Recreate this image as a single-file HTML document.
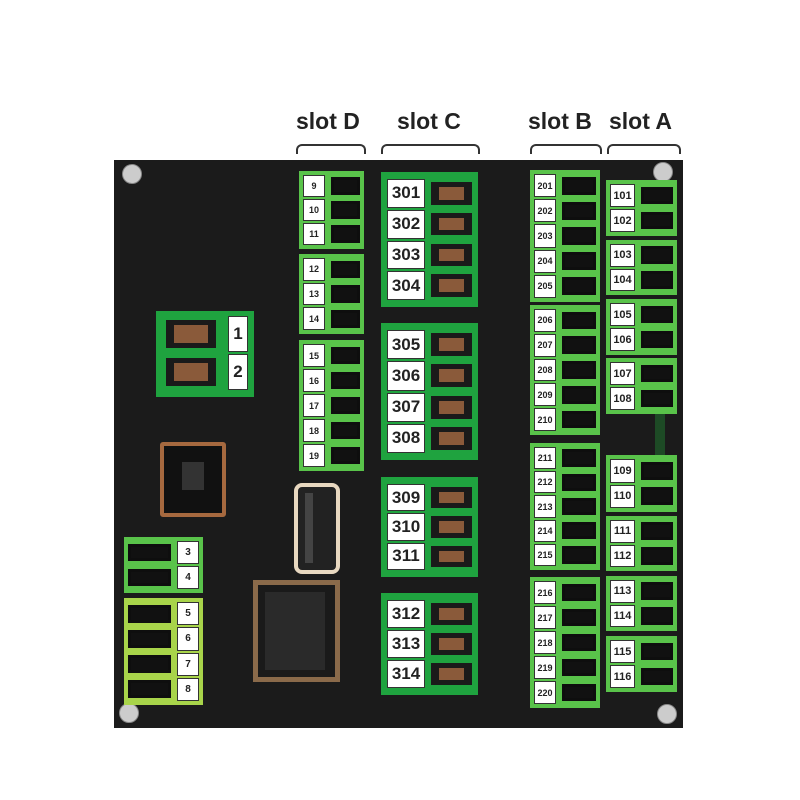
<!DOCTYPE html><html><head><style>
body{margin:0;width:800px;height:800px;background:#fff;position:relative;overflow:hidden;font-family:"Liberation Sans",sans-serif}
.a{position:absolute}
.board{left:114px;top:160px;width:569px;height:568px;background:#1b1b1b}
.blk{position:absolute;display:flex;flex-direction:column;box-sizing:border-box;padding:3px 4px}
.blk .r{flex:1;display:flex;align-items:center;gap:6px;margin:1px 0}
.lb{background:#fff;border:1px solid #333;font-weight:bold;color:#222;text-align:center;box-sizing:border-box;height:100%;display:flex;align-items:center;justify-content:center}
.sk{flex:1;height:78%;background:#111;border:3px solid rgba(0,0,0,0.15);box-sizing:border-box;position:relative}
.sk.c{background:#8a5a3a;border:5px solid #1a1a1a;border-left-width:8px;border-right-width:8px}
.g1{background:#59c34a}
.g2{background:#1fa33f}
.g3{background:#a8d44a}
.hd{font-size:23px;font-weight:bold;color:#222;top:108px}
.br{top:144px;height:8px;border:2px solid #333;border-bottom:none;border-radius:6px 6px 0 0}
.sc{width:18px;height:18px;border-radius:50%;background:#ccc;border:1px solid #888}
</style></head><body>
<div class="a hd" style="left:296px">slot D</div>
<div class="a hd" style="left:397px">slot C</div>
<div class="a hd" style="left:528px">slot B</div>
<div class="a hd" style="left:609px">slot A</div>
<div class="a br" style="left:296px;width:66px"></div>
<div class="a br" style="left:381px;width:95px"></div>
<div class="a br" style="left:530px;width:68px"></div>
<div class="a br" style="left:607px;width:70px"></div>
<div class="a board"></div>
<div class="a sc" style="left:122px;top:164px"></div>
<div class="a sc" style="left:653px;top:162px"></div>
<div class="a sc" style="left:119px;top:703px"></div>
<div class="a sc" style="left:657px;top:704px"></div>

<!-- slot D -->
<div class="blk g1" style="left:299px;top:171px;width:65px;height:78px"><div class="r"><span class="lb" style="width:22px;font-size:9px">9</span><span class="sk"></span></div><div class="r"><span class="lb" style="width:22px;font-size:9px">10</span><span class="sk"></span></div><div class="r"><span class="lb" style="width:22px;font-size:9px">11</span><span class="sk"></span></div></div>
<div class="blk g1" style="left:299px;top:254px;width:65px;height:80px"><div class="r"><span class="lb" style="width:22px;font-size:9px">12</span><span class="sk"></span></div><div class="r"><span class="lb" style="width:22px;font-size:9px">13</span><span class="sk"></span></div><div class="r"><span class="lb" style="width:22px;font-size:9px">14</span><span class="sk"></span></div></div>
<div class="blk g1" style="left:299px;top:340px;width:65px;height:131px"><div class="r"><span class="lb" style="width:22px;font-size:9px">15</span><span class="sk"></span></div><div class="r"><span class="lb" style="width:22px;font-size:9px">16</span><span class="sk"></span></div><div class="r"><span class="lb" style="width:22px;font-size:9px">17</span><span class="sk"></span></div><div class="r"><span class="lb" style="width:22px;font-size:9px">18</span><span class="sk"></span></div><div class="r"><span class="lb" style="width:22px;font-size:9px">19</span><span class="sk"></span></div></div>

<!-- slot C -->
<div class="blk g2" style="left:381px;top:172px;width:97px;height:135px;padding:6px 6px"><div class="r"><span class="lb" style="width:38px;font-size:17px">301</span><span class="sk c"></span></div><div class="r"><span class="lb" style="width:38px;font-size:17px">302</span><span class="sk c"></span></div><div class="r"><span class="lb" style="width:38px;font-size:17px">303</span><span class="sk c"></span></div><div class="r"><span class="lb" style="width:38px;font-size:17px">304</span><span class="sk c"></span></div></div>
<div class="blk g2" style="left:381px;top:323px;width:97px;height:137px;padding:6px 6px"><div class="r"><span class="lb" style="width:38px;font-size:17px">305</span><span class="sk c"></span></div><div class="r"><span class="lb" style="width:38px;font-size:17px">306</span><span class="sk c"></span></div><div class="r"><span class="lb" style="width:38px;font-size:17px">307</span><span class="sk c"></span></div><div class="r"><span class="lb" style="width:38px;font-size:17px">308</span><span class="sk c"></span></div></div>
<div class="blk g2" style="left:381px;top:477px;width:97px;height:100px;padding:6px 6px"><div class="r"><span class="lb" style="width:38px;font-size:17px">309</span><span class="sk c"></span></div><div class="r"><span class="lb" style="width:38px;font-size:17px">310</span><span class="sk c"></span></div><div class="r"><span class="lb" style="width:38px;font-size:17px">311</span><span class="sk c"></span></div></div>
<div class="blk g2" style="left:381px;top:593px;width:97px;height:102px;padding:6px 6px"><div class="r"><span class="lb" style="width:38px;font-size:17px">312</span><span class="sk c"></span></div><div class="r"><span class="lb" style="width:38px;font-size:17px">313</span><span class="sk c"></span></div><div class="r"><span class="lb" style="width:38px;font-size:17px">314</span><span class="sk c"></span></div></div>

<!-- terminal 1-2 -->
<div class="blk g2" style="left:156px;top:311px;width:98px;height:86px;flex-direction:column;padding:4px 6px 6px"><div class="r" style="flex-direction:row"><span class="sk c" style="flex:0 0 50px;margin-left:4px"></span><span style="flex:1"></span><span class="lb" style="width:28px;font-size:17px">1</span></div><div class="r"><span class="sk c" style="flex:0 0 50px;margin-left:4px"></span><span style="flex:1"></span><span class="lb" style="width:28px;font-size:17px">2</span></div></div>

<!-- USB B -->
<div class="a" style="left:160px;top:442px;width:66px;height:75px;background:#111;border:4px solid #a6693f;box-sizing:border-box;border-radius:3px"></div>
<div class="a" style="left:182px;top:462px;width:22px;height:28px;background:#333"></div>

<!-- 3-4 -->
<div class="blk g1" style="left:124px;top:537px;width:79px;height:56px"><div class="r"><span class="sk"></span><span class="lb" style="width:22px;font-size:10px">3</span></div><div class="r"><span class="sk"></span><span class="lb" style="width:22px;font-size:10px">4</span></div></div>
<div class="blk g3" style="left:124px;top:598px;width:79px;height:107px"><div class="r"><span class="sk"></span><span class="lb" style="width:22px;font-size:10px">5</span></div><div class="r"><span class="sk"></span><span class="lb" style="width:22px;font-size:10px">6</span></div><div class="r"><span class="sk"></span><span class="lb" style="width:22px;font-size:10px">7</span></div><div class="r"><span class="sk"></span><span class="lb" style="width:22px;font-size:10px">8</span></div></div>

<!-- USB A -->
<div class="a" style="left:294px;top:483px;width:46px;height:91px;background:#222;border:4px solid #e8d8c0;box-sizing:border-box;border-radius:8px"></div>
<div class="a" style="left:305px;top:493px;width:8px;height:70px;background:#444"></div>
<!-- RJ45 -->
<div class="a" style="left:253px;top:580px;width:87px;height:102px;background:#1a1a1a;border:5px solid #8a6a4a;box-sizing:border-box"></div>
<div class="a" style="left:265px;top:592px;width:60px;height:78px;background:#2a2a2a"></div>

<!-- slot B -->
<div class="blk g1" style="left:530px;top:170px;width:70px;height:132px"><div class="r"><span class="lb" style="width:22px;font-size:9px">201</span><span class="sk"></span></div><div class="r"><span class="lb" style="width:22px;font-size:9px">202</span><span class="sk"></span></div><div class="r"><span class="lb" style="width:22px;font-size:9px">203</span><span class="sk"></span></div><div class="r"><span class="lb" style="width:22px;font-size:9px">204</span><span class="sk"></span></div><div class="r"><span class="lb" style="width:22px;font-size:9px">205</span><span class="sk"></span></div></div>
<div class="blk g1" style="left:530px;top:305px;width:70px;height:130px"><div class="r"><span class="lb" style="width:22px;font-size:9px">206</span><span class="sk"></span></div><div class="r"><span class="lb" style="width:22px;font-size:9px">207</span><span class="sk"></span></div><div class="r"><span class="lb" style="width:22px;font-size:9px">208</span><span class="sk"></span></div><div class="r"><span class="lb" style="width:22px;font-size:9px">209</span><span class="sk"></span></div><div class="r"><span class="lb" style="width:22px;font-size:9px">210</span><span class="sk"></span></div></div>
<div class="blk g1" style="left:530px;top:443px;width:70px;height:127px"><div class="r"><span class="lb" style="width:22px;font-size:9px">211</span><span class="sk"></span></div><div class="r"><span class="lb" style="width:22px;font-size:9px">212</span><span class="sk"></span></div><div class="r"><span class="lb" style="width:22px;font-size:9px">213</span><span class="sk"></span></div><div class="r"><span class="lb" style="width:22px;font-size:9px">214</span><span class="sk"></span></div><div class="r"><span class="lb" style="width:22px;font-size:9px">215</span><span class="sk"></span></div></div>
<div class="blk g1" style="left:530px;top:577px;width:70px;height:131px"><div class="r"><span class="lb" style="width:22px;font-size:9px">216</span><span class="sk"></span></div><div class="r"><span class="lb" style="width:22px;font-size:9px">217</span><span class="sk"></span></div><div class="r"><span class="lb" style="width:22px;font-size:9px">218</span><span class="sk"></span></div><div class="r"><span class="lb" style="width:22px;font-size:9px">219</span><span class="sk"></span></div><div class="r"><span class="lb" style="width:22px;font-size:9px">220</span><span class="sk"></span></div></div>

<!-- slot A -->
<div class="blk g1" style="left:606px;top:180px;width:71px;height:56px"><div class="r"><span class="lb" style="width:25px;font-size:11px">101</span><span class="sk"></span></div><div class="r"><span class="lb" style="width:25px;font-size:11px">102</span><span class="sk"></span></div></div>
<div class="blk g1" style="left:606px;top:240px;width:71px;height:55px"><div class="r"><span class="lb" style="width:25px;font-size:11px">103</span><span class="sk"></span></div><div class="r"><span class="lb" style="width:25px;font-size:11px">104</span><span class="sk"></span></div></div>
<div class="blk g1" style="left:606px;top:299px;width:71px;height:56px"><div class="r"><span class="lb" style="width:25px;font-size:11px">105</span><span class="sk"></span></div><div class="r"><span class="lb" style="width:25px;font-size:11px">106</span><span class="sk"></span></div></div>
<div class="blk g1" style="left:606px;top:358px;width:71px;height:56px"><div class="r"><span class="lb" style="width:25px;font-size:11px">107</span><span class="sk"></span></div><div class="r"><span class="lb" style="width:25px;font-size:11px">108</span><span class="sk"></span></div></div>
<div class="a" style="left:655px;top:414px;width:10px;height:42px;background:#1d4a25"></div>
<div class="blk g1" style="left:606px;top:455px;width:71px;height:57px"><div class="r"><span class="lb" style="width:25px;font-size:11px">109</span><span class="sk"></span></div><div class="r"><span class="lb" style="width:25px;font-size:11px">110</span><span class="sk"></span></div></div>
<div class="blk g1" style="left:606px;top:516px;width:71px;height:55px"><div class="r"><span class="lb" style="width:25px;font-size:11px">111</span><span class="sk"></span></div><div class="r"><span class="lb" style="width:25px;font-size:11px">112</span><span class="sk"></span></div></div>
<div class="blk g1" style="left:606px;top:576px;width:71px;height:55px"><div class="r"><span class="lb" style="width:25px;font-size:11px">113</span><span class="sk"></span></div><div class="r"><span class="lb" style="width:25px;font-size:11px">114</span><span class="sk"></span></div></div>
<div class="blk g1" style="left:606px;top:636px;width:71px;height:56px"><div class="r"><span class="lb" style="width:25px;font-size:11px">115</span><span class="sk"></span></div><div class="r"><span class="lb" style="width:25px;font-size:11px">116</span><span class="sk"></span></div></div>
</body></html>
